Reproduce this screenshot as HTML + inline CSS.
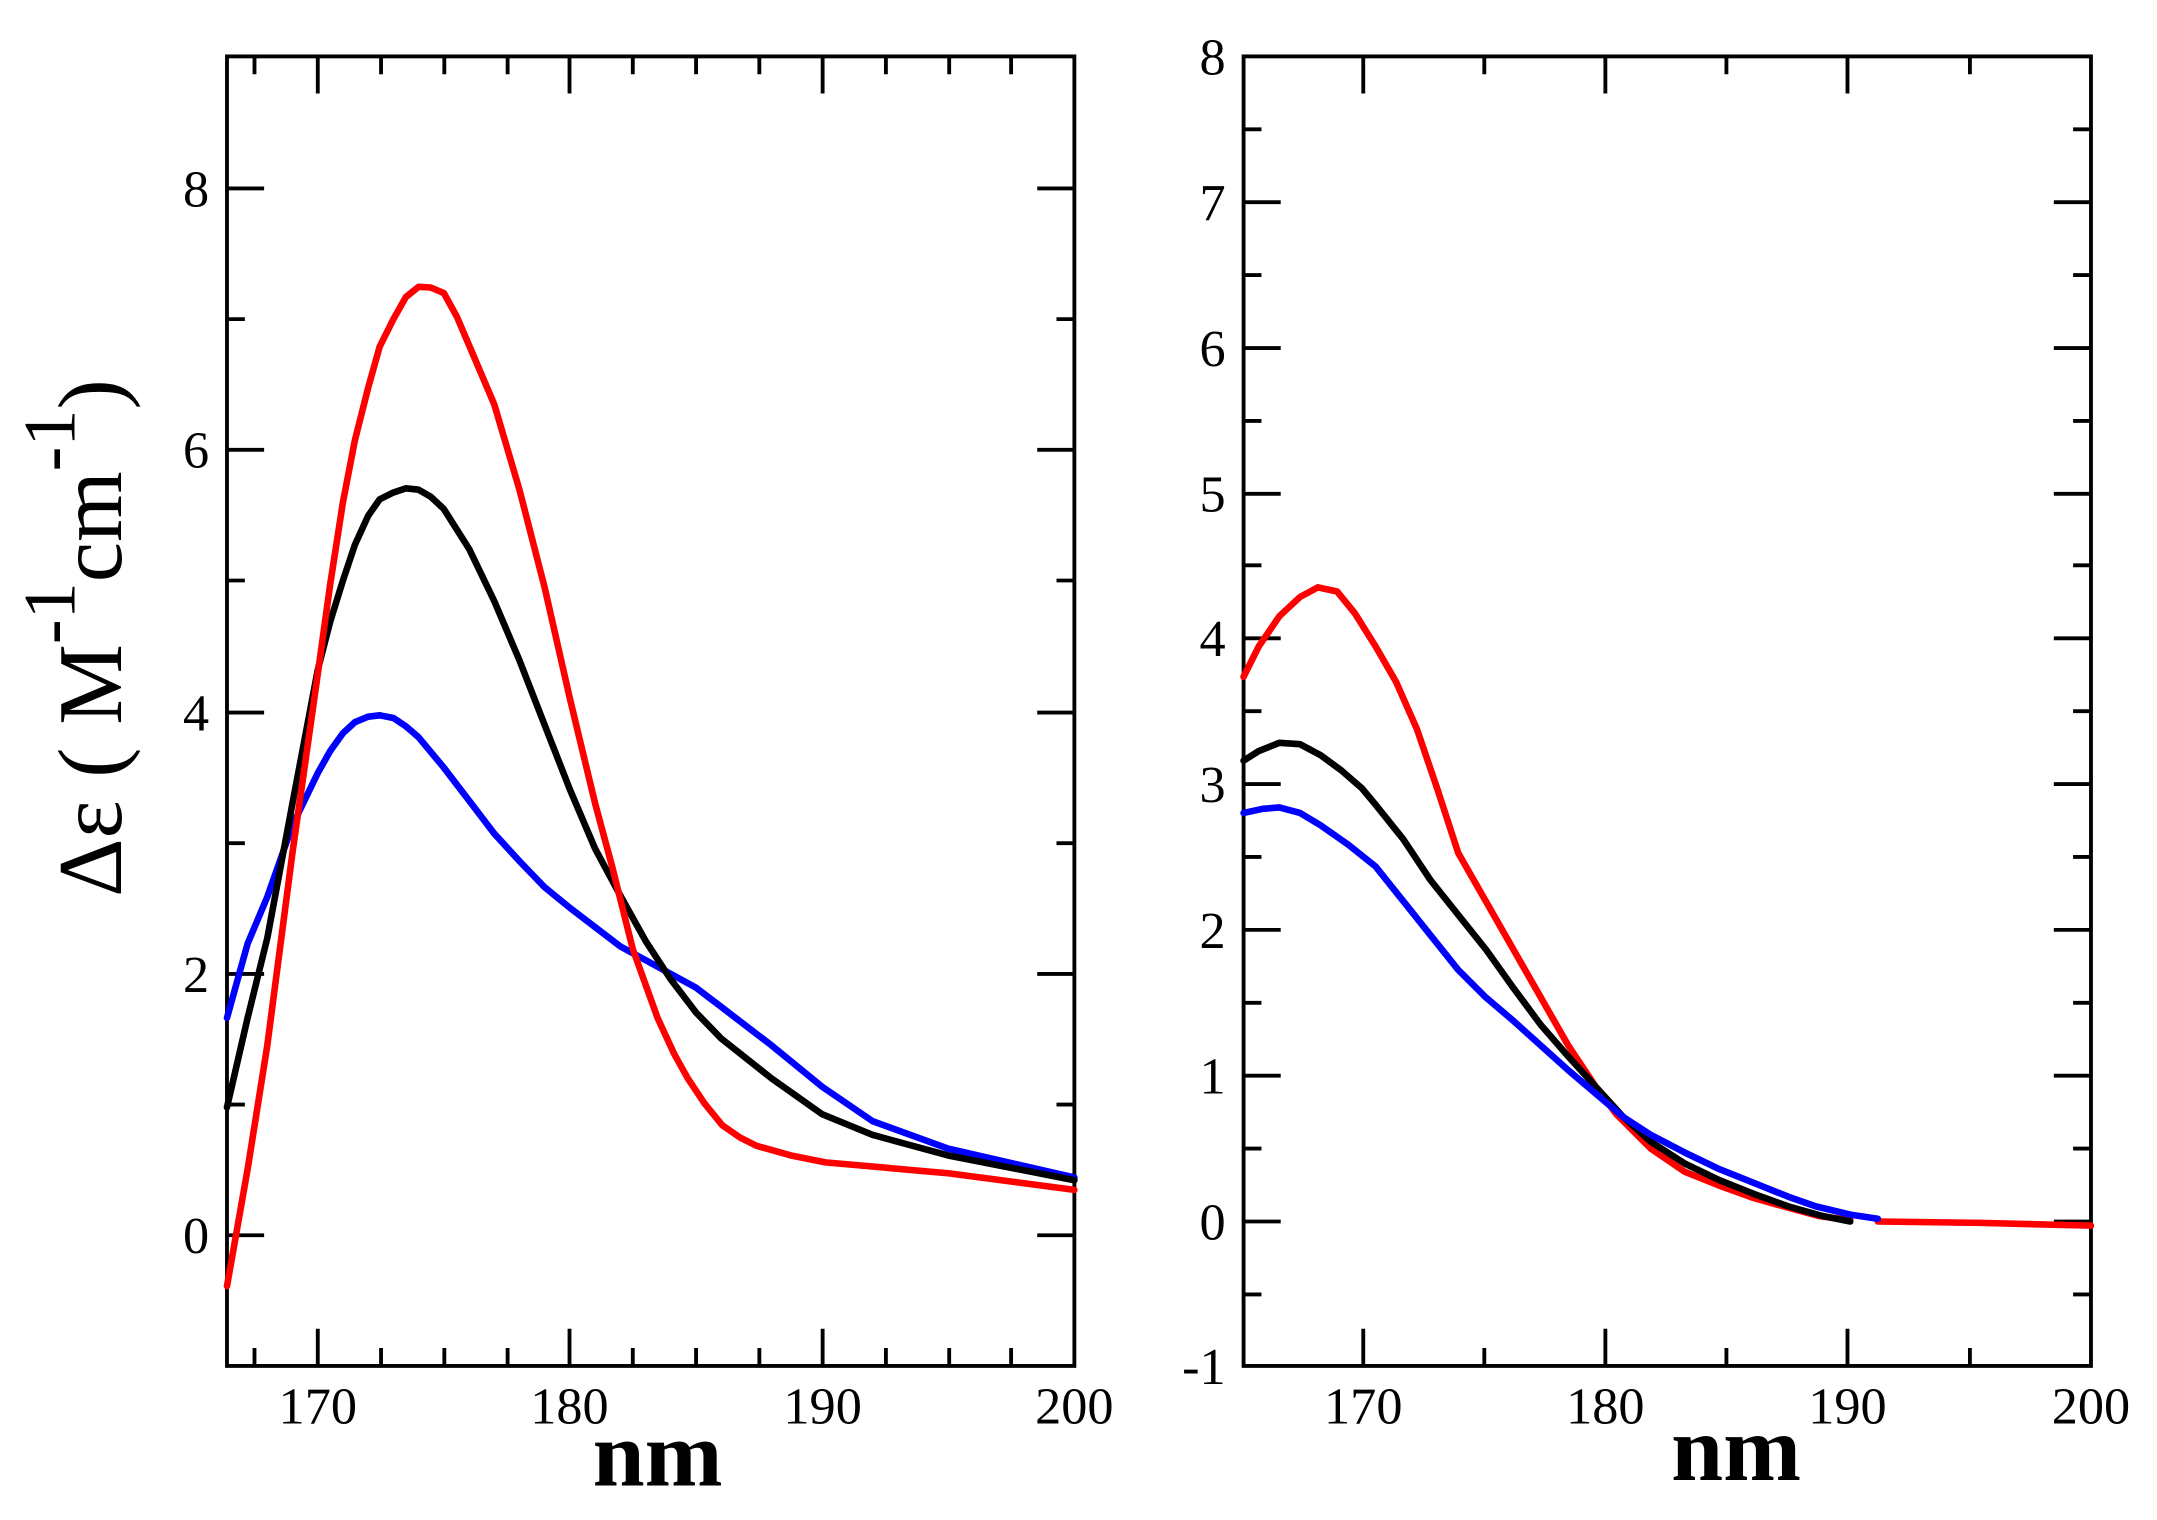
<!DOCTYPE html>
<html><head><meta charset="utf-8"><style>html,body{margin:0;padding:0;background:#fff}svg{display:block}</style></head>
<body>
<svg width="2157" height="1520" viewBox="0 0 1568 1105" preserveAspectRatio="none" xmlns="http://www.w3.org/2000/svg" font-family="Liberation Serif, serif">
<rect width="1568" height="1105" fill="#fff"/>
<g stroke="#000" stroke-width="2.8" fill="none">
<rect x="165" y="41" width="616" height="952"/>
<path d="M165 898h27M781 898h-27M165 708h27M781 708h-27M165 518h27M781 518h-27M165 327h27M781 327h-27M165 137h27M781 137h-27"/>
<path d="M165 803h13M781 803h-13M165 613h13M781 613h-13M165 422h13M781 422h-13M165 232h13M781 232h-13"/>
<path d="M231 993v-27M231 41v27M414 993v-27M414 41v27M598 993v-27M598 41v27"/>
<path d="M185 993v-13M185 41v13M277 993v-13M277 41v13M323 993v-13M323 41v13M369 993v-13M369 41v13M460 993v-13M460 41v13M506 993v-13M506 41v13M552 993v-13M552 41v13M644 993v-13M644 41v13M690 993v-13M690 41v13M735 993v-13M735 41v13"/>
</g>
<g stroke="#000" stroke-width="2.8" fill="none">
<rect x="904" y="41" width="616" height="952"/>
<path d="M904 888h27M904 782h27M904 676h27M904 570h27M904 464h27M904 359h27M904 253h27M904 147h27 M1520 888h-27M1520 782h-27M1520 676h-27M1520 570h-27M1520 464h-27M1520 359h-27M1520 253h-27M1520 147h-27"/>
<path d="M904 941h13M904 835h13M904 729h13M904 623h13M904 517h13M904 411h13M904 306h13M904 200h13M904 94h13 M1520 941h-13M1520 835h-13M1520 729h-13M1520 623h-13M1520 517h-13M1520 411h-13M1520 306h-13M1520 200h-13M1520 94h-13"/>
<path d="M991 993v-27M991 41v27M1167 993v-27M1167 41v27M1343 993v-27M1343 41v27"/>
<path d="M1079 993v-13M1079 41v13M1255 993v-13M1255 41v13M1432 993v-13M1432 41v13"/>
</g>
<g font-size="38" text-anchor="end" fill="#000">
<text x="152" y="911">0</text><text x="152" y="721">2</text><text x="152" y="531">4</text><text x="152" y="340">6</text><text x="152" y="150">8</text>
<text x="891" y="1006">-1</text><text x="891" y="901">0</text><text x="891" y="795">1</text><text x="891" y="689">2</text><text x="891" y="583">3</text><text x="891" y="477">4</text><text x="891" y="372">5</text><text x="891" y="266">6</text><text x="891" y="160">7</text><text x="891" y="54">8</text>
</g>
<g font-size="38" text-anchor="middle" fill="#000">
<text x="231" y="1035">170</text><text x="414" y="1035">180</text><text x="598" y="1035">190</text><text x="781" y="1035">200</text>
<text x="991" y="1035">170</text><text x="1167" y="1035">180</text><text x="1343" y="1035">190</text><text x="1520" y="1035">200</text>
</g>
<g font-size="68" font-weight="bold" text-anchor="middle" fill="#000">
<text x="478" y="1080">nm</text><text x="1262" y="1076">nm</text>
</g>
<text transform="translate(88,652) rotate(-90)" font-size="66" fill="#000">Δε ( M<tspan font-size="54" dy="-34">-1</tspan><tspan dy="34">cm</tspan><tspan font-size="54" dy="-34">-1</tspan><tspan dy="34">)</tspan></text>
<g fill="none" stroke-width="4.8" stroke-linejoin="round" stroke-linecap="round">
<polyline stroke="#00f" points="165,740 180,686 194.3,652 212.6,600 231,562 240,546 249.3,533 258,525 267.6,521 276,520 286,522 295,528 304.3,536 322.6,558 341,582 359.3,606 377.6,626 395.9,645 414.3,660 432.6,674 450.9,688 469.3,698 487.6,708 505.9,718 524.3,732 560.9,760 597.6,790 634.2,815 689.2,835 781,856"/>
<polyline stroke="#000" points="165,805 180,740 194.3,682 212.6,584 231,487 240,452 249.3,422 258,396 267.6,375 276,363 286,358 295,355 304.3,356 313,361 322.6,370 341,399 359.3,437 377.6,480 395.9,527 414.3,574 432.6,617 450.9,651 469.3,684 487.6,712 505.9,736 524.3,755 560.9,784 597.6,810 634.2,825 689.2,840 781,858"/>
<polyline stroke="#f00" points="165,935 180,850 194.3,760 212.6,620 231,490 240,425 249.3,365 258,320 267.6,282 276,252 286,232 295,216 304.3,208.5 313,209 322.6,213 332,230 341,251 359.3,294 377.6,356 395.9,427 414.3,508 432.6,584 445,630 460,690 478,740 490,766 500,784 512,802 525,818 538,827 550,833 575,840 600,845 690,853 781,865"/>
<polyline stroke="#f00" points="904,492 915,470 930,448 945,434 958,427 972,430 985,446 1000,470 1015,496 1030,530 1045,574 1060,620 1080,655 1100,690 1120,725 1140,760 1160,790 1175,810 1200,835 1225,852 1250,862 1275,871 1300,878 1322,884 1345,887"/>
<polyline stroke="#f00" points="1365,888 1440,889 1520,891"/>
<polyline stroke="#000" points="904,553 915,546 930,540 945,541 960,549 975,560 990,573 1000,585 1020,610 1040,640 1060,665 1080,690 1100,718 1120,745 1140,768 1160,790 1180,812 1200,830 1225,846 1250,858 1275,868 1300,877 1325,884 1345,888"/>
<polyline stroke="#00f" points="904,591 918,588 930,587 945,591 960,600 980,614 1000,630 1020,655 1040,680 1060,705 1080,725 1100,742 1120,760 1140,778 1160,795 1180,812 1200,825 1225,838 1250,850 1275,860 1300,870 1320,877 1345,883 1365,886"/>
</g>
</svg>
</body></html>
